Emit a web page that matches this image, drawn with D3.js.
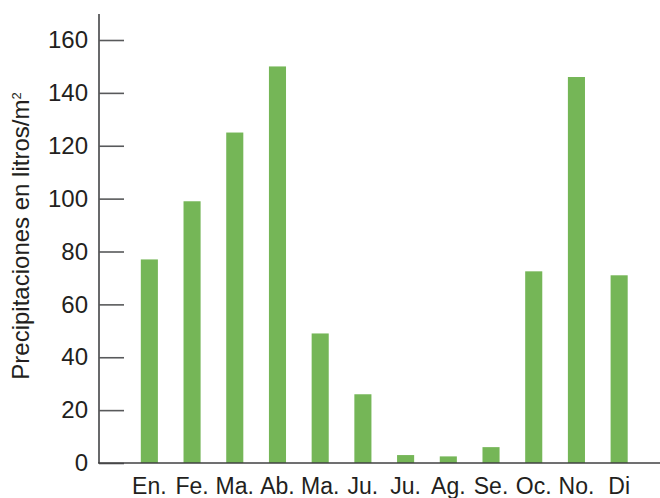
<!DOCTYPE html>
<html>
<head>
<meta charset="utf-8">
<script src="https://cdn.jsdelivr.net/npm/d3@7"></script>
<style>
  body { margin: 0; background: #fff; }
  text { font-family: "Liberation Sans", Arial, sans-serif; fill: #231f20; }
</style>
</head>
<body>
<script>
  const months = ['En.', 'Fe.', 'Ma.', 'Ab.', 'Ma.', 'Ju.', 'Ju.', 'Ag.', 'Se.', 'Oc.', 'No.', 'Di'];
  const rainfall = [77, 99, 125, 150, 49, 26, 3, 2.5, 6, 72.5, 146, 71];
  const yTicks = [0, 20, 40, 60, 80, 100, 120, 140, 160];

  const width = 660;
  const height = 498;
  const axisX = 99;
  const baseY = 463;

  const svg = d3
    .select('body')
    .append('svg')
    .attr('width', width)
    .attr('height', height);

  const x = d3
    .scaleBand()
    .domain(d3.range(months.length))
    .range([128, 640.5])
    .paddingInner(0.6)
    .paddingOuter(0.3);

  const y = d3.scaleLinear().domain([0, 160]).range([baseY, 40]);

  // bars
  svg
    .append('g')
    .selectAll('rect')
    .data(rainfall)
    .enter()
    .append('rect')
    .attr('x', (d, i) => x(i))
    .attr('y', (d) => y(d))
    .attr('width', x.bandwidth())
    .attr('height', (d) => baseY - y(d))
    .style('fill', '#75b657');

  // y axis, ticks pointing inward
  const yAxis = svg
    .append('g')
    .attr('transform', `translate(${axisX},0)`)
    .call(d3.axisLeft(y).tickValues(yTicks).tickSize(-25).tickPadding(11));
  yAxis.select('.domain').remove();
  yAxis.selectAll('line').attr('stroke', '#58595b').attr('stroke-width', 1.6);
  yAxis.selectAll('text').style('font-size', '24px').attr('fill', '#231f20');

  svg
    .append('line')
    .attr('x1', axisX)
    .attr('x2', axisX)
    .attr('y1', 14)
    .attr('y2', baseY)
    .attr('stroke', '#58595b')
    .attr('stroke-width', 1.8);

  // x axis
  svg
    .append('line')
    .attr('x1', axisX - 1)
    .attr('x2', width)
    .attr('y1', baseY)
    .attr('y2', baseY)
    .attr('stroke', '#414042')
    .attr('stroke-width', 1.6);

  const xAxis = svg
    .append('g')
    .attr('transform', `translate(0,${baseY})`)
    .call(d3.axisBottom(x).tickFormat((i) => months[i]).tickSize(0).tickPadding(15));
  xAxis.select('.domain').remove();
  xAxis.selectAll('text').style('font-size', '23px').attr('fill', '#231f20');

  // y title
  const title = svg
    .append('text')
    .attr('transform', `translate(29, 236) rotate(-90)`)
    .attr('text-anchor', 'middle')
    .style('font-size', '24px');
  title.append('tspan').text('Precipitaciones en litros/m');
  title.append('tspan').text('2').attr('dy', '-0.6em').style('font-size', '13px');
</script>
</body>
</html>
